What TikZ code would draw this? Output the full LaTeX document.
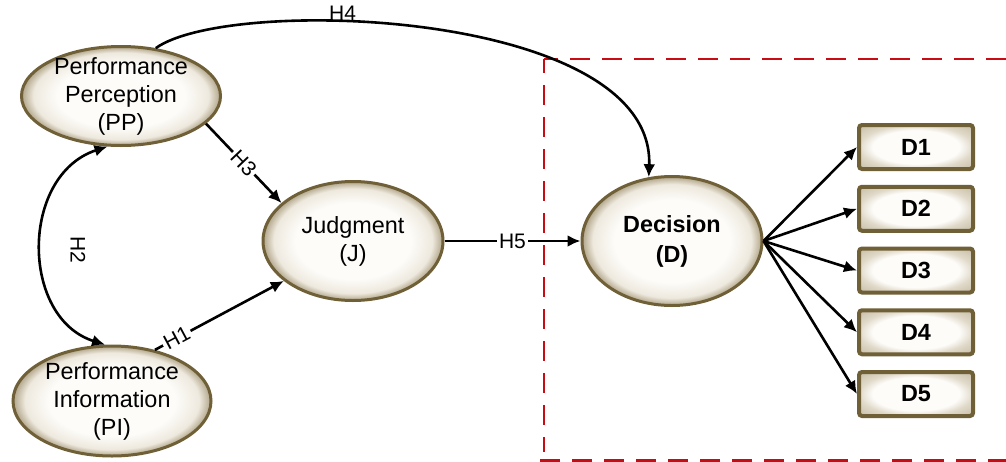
\documentclass[tikz,border=0pt]{standalone}
\usepackage{fontspec}
\setmainfont{Liberation Sans}
\usetikzlibrary{shapes.geometric,arrows.meta}
\definecolor{eggin}{RGB}{253,252,249}
\definecolor{eggmid}{RGB}{238,233,222}
\definecolor{eggout}{RGB}{176,164,136}
\definecolor{boxmid}{RGB}{225,218,202}
\definecolor{boxout}{RGB}{196,186,162}
\definecolor{eggline}{RGB}{112,96,56}
\definecolor{boxred}{RGB}{200,12,20}
\pgfdeclareradialshading{eggglow}{\pgfpoint{0bp}{0bp}}{color(0bp)=(eggin); color(16bp)=(eggin); color(22bp)=(eggmid); color(25bp)=(eggout); color(50bp)=(eggout)}
\pgfdeclareradialshading{boxglow}{\pgfpoint{0bp}{0bp}}{color(0bp)=(eggin); color(19bp)=(eggin); color(25bp)=(boxmid); color(36bp)=(boxout); color(50bp)=(boxout)}
\begin{document}
\begin{tikzpicture}[x=0.5pt,y=-0.5pt,>={Latex[length=6.5pt,width=6pt]},
	font=\fontsize{11.7}{14}\selectfont,
	egg/.style={ellipse,draw=eggline,line width=1.5pt,shade,shading=eggglow,inner sep=0pt,label={[align=center]center:#1}},
	boldegg/.style={ellipse,draw=eggline,line width=1.5pt,shade,shading=eggglow,inner sep=0pt,label={[align=center,font=\fontsize{11.7}{15}\selectfont\bfseries]center:#1}},
	dbox/.style={rectangle,rounded corners=1.5pt,draw=eggline,line width=2pt,shade,shading=boxglow,minimum width=57pt,minimum height=22pt,font=\fontsize{11.7}{14}\selectfont\bfseries},
	link/.style={->,line width=1.3pt},
	hyp/.style={font=\fontsize{10.5}{12}\selectfont,inner sep=1pt,fill=white}]
	\useasboundingbox (0,0) rectangle (1006,461);

	% Decision boundary
	\draw[boxred,line width=1.2pt,dash pattern=on 10pt off 6pt,dash phase=3pt] (544,59) -- (1006,59);
	\draw[boxred,line width=1.2pt,dash pattern=on 10pt off 6pt,dash phase=3pt] (544,59) -- (544,452);
	\draw[boxred,line width=1.2pt,dash pattern=on 10pt off 6pt] (540,460.5) -- (1006,460.5);

	% Constructs
	\node[egg={Performance\\Perception\\(PP)},minimum width=99.5pt,minimum height=49.5pt] (pp) at (121,96) {};
	\node[egg={Performance\\Information\\(PI)},minimum width=99pt,minimum height=55pt] (pi) at (112,401) {};
	\node[egg={Judgment\\(J)},minimum width=90pt,minimum height=59.5pt] (j) at (353,241) {};
	\node[boldegg={Decision\\(D)},minimum width=90pt,minimum height=64.5pt] (d) at (672,241) {};

	% Decision items
	\foreach \n in {1,...,5}
		\node[dbox] (d\n) at (916,85.25+61.75*\n) {D\n};
	\foreach \n in {1,...,5}
		\draw[link] (d.east) -- (d\n.west);

	% Hypotheses
	\draw[link] (pi.50) -- node[hyp,sloped,pos=0.17]{H1} (j.210);
	\draw[link,<->] (pp.255) .. controls (20,175) and (20,318) .. (pi.97);
	\node[hyp,fill=none,rotate=-90] (h2) at (78,250) {H2};
	\draw[link] (pp.-18) -- node[hyp,sloped]{H3} (j.152);
	\draw[link] (pp.54) .. controls (230,-5) and (655,10) .. node[hyp,fill=none,pos=0.37,above,inner sep=0pt]{H4} (d.110);
	\draw[link] (j.east) -- node[hyp]{H5} (d.west);
\end{tikzpicture}
\end{document}
